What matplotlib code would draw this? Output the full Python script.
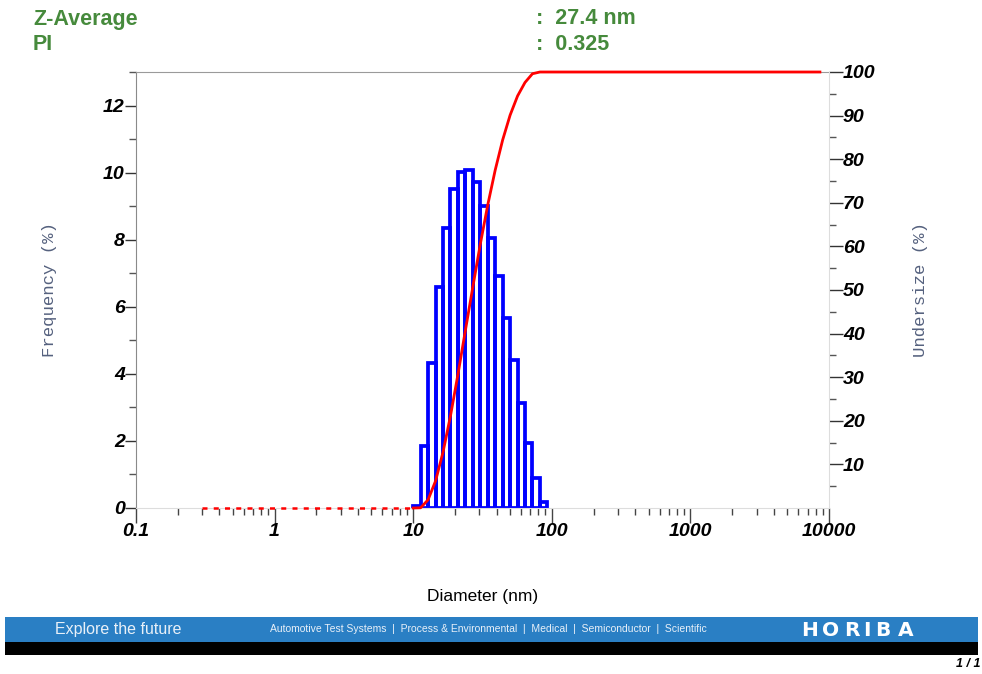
"""Particle size distribution report (frequency histogram + cumulative undersize)."""

import matplotlib

matplotlib.use("Agg")
import matplotlib.pyplot as plt
from matplotlib.patches import Rectangle
from matplotlib.ticker import LogLocator, FixedLocator, FixedFormatter, MultipleLocator

# ---- data ----
z_average = "27.4 nm"
pdi = "0.325"

# bin edges (nm) of the frequency histogram
bin_edges = [10.0, 11.32, 12.81, 14.50, 16.41, 18.57, 21.02, 23.79, 26.93, 30.48,
             34.50, 39.05, 44.19, 50.02, 56.61, 64.07, 72.52, 82.08, 92.90]
# frequency (%) for each bin
frequency = [0.05, 1.85, 4.31, 6.58, 8.34, 9.50, 10.03, 10.08, 9.72, 9.00,
             8.04, 6.91, 5.67, 4.41, 3.14, 1.93, 0.89, 0.19]

# cumulative undersize (%), zero part drawn dotted
undersize_zero_d = [0.3, 10.0]
undersize_zero = [0, 0]
undersize_d = [10.0, 11.32, 12.81, 14.50, 16.41, 18.57, 21.02, 23.79, 26.93, 30.48,
               34.50, 39.05, 44.19, 50.02, 56.61, 64.07, 72.52, 82.08, 92.90, 8600]
undersize = [0.0, 0.05, 1.9, 6.2, 12.8, 21.1, 30.6, 40.7, 50.7, 60.5,
             69.5, 77.5, 84.4, 90.1, 94.5, 97.6, 99.6, 100.0, 100.0, 100.0]

x_ticks = [0.1, 1, 10, 100, 1000, 10000]
x_ticklabels = ["0.1", "1", "10", "100", "1000", "10000"]
freq_ticks = [0, 2, 4, 6, 8, 10, 12]
under_ticks = [10, 20, 30, 40, 50, 60, 70, 80, 90, 100]

GREEN = "#468a3c"
LABEL_GRAY = "#55617e"
BAND_BLUE = "#2a7fc4"

W, H = 982, 674
fig = plt.figure(figsize=(W / 100, H / 100), dpi=100)
ax = fig.add_axes([136 / W, 1 - 508 / H, 693 / W, 436 / H])

widths = [b - a for a, b in zip(bin_edges[:-1], bin_edges[1:])]
ax.bar(bin_edges[:-1], frequency, width=widths, align="edge", fill=False,
       edgecolor="#0000ff", linewidth=2.7, zorder=2)

ax.set_xscale("log")
ax.set_xlim(0.1, 10000)
ax.set_ylim(0, 13)

tick_font = dict(fontfamily="Liberation Sans", fontweight="bold", fontstyle="italic", fontsize=14)

ax.xaxis.set_major_locator(FixedLocator(x_ticks))
ax.xaxis.set_major_formatter(FixedFormatter(x_ticklabels))
ax.xaxis.set_minor_locator(LogLocator(base=10, subs=range(2, 10), numticks=20))
ax.xaxis.set_minor_formatter(FixedFormatter([]))
ax.tick_params(axis="x", which="major", direction="out", length=11, width=1, color="#444444", pad=0)
ax.tick_params(axis="x", which="minor", direction="out", length=5, width=1, color="#444444")

ax.yaxis.set_major_locator(FixedLocator(freq_ticks))
ax.yaxis.set_minor_locator(MultipleLocator(1))
ax.tick_params(axis="y", which="major", direction="out", length=8, width=1, color="#333333", pad=0)
ax.tick_params(axis="y", which="minor", direction="out", length=5, width=1, color="#555555")

for lbl in ax.get_xticklabels() + ax.get_yticklabels():
    lbl.set(**tick_font)

ax.spines["left"].set_color("#8a8a8a")
ax.spines["top"].set_color("#9a9a9a")
ax.spines["bottom"].set_color("#dddddd")
ax.spines["right"].set_visible(False)

ax.set_ylabel("Frequency (%)", fontfamily="Liberation Mono", fontsize=12.5, color=LABEL_GRAY)
ax.yaxis.set_label_coords(-0.114, 0.5)

# cumulative curve on the right axis
ax2 = ax.twinx()
ax2.set_ylim(0, 100)
ax2.plot(undersize_zero_d, undersize_zero, color="#ff0000", linestyle=(0, (2, 2.5)),
         linewidth=1.8, clip_on=False)
ax2.plot(undersize_d, undersize, color="#ff0000", linewidth=2, clip_on=False)
ax2.yaxis.set_major_locator(FixedLocator(under_ticks))
ax2.yaxis.set_minor_locator(FixedLocator([5, 15, 25, 35, 45, 55, 65, 75, 85, 95]))
ax2.tick_params(axis="y", which="major", direction="out", length=10, width=1, color="#333333", pad=0)
ax2.tick_params(axis="y", which="minor", direction="out", length=5, width=1, color="#555555")
for lbl in ax2.get_yticklabels():
    lbl.set(**tick_font)
for side in ["left", "top", "bottom"]:
    ax2.spines[side].set_visible(False)
ax2.spines["right"].set_color("#dddddd")
ax2.set_ylabel("Undersize (%)", fontfamily="Liberation Mono", fontsize=12.5, color=LABEL_GRAY,
               rotation=90)
ax2.yaxis.set_label_coords(1.121, 0.5)

fig.text(483 / W, 1 - 597 / H, "Diameter (nm)", fontfamily="Liberation Sans", fontsize=12.5,
         ha="center", va="center")

# header
head = dict(fontfamily="Liberation Sans", fontweight="bold", fontsize=15.5, color=GREEN, va="center")
fig.text(33 / W, 1 - 19 / H, "Z-Average", **head)
fig.text(536 / W, 1 - 19 / H, ":  " + z_average, **head)
fig.text(33 / W, 1 - 45 / H, "PI", **head)
fig.text(536 / W, 1 - 45 / H, ":  " + pdi, **head)

# footer bands
fig.patches.append(Rectangle((5 / W, 1 - 642 / H), 973 / W, 25 / H, transform=fig.transFigure,
                             facecolor=BAND_BLUE, edgecolor="none"))
fig.patches.append(Rectangle((5 / W, 1 - 655 / H), 973 / W, 13 / H, transform=fig.transFigure,
                             facecolor="black", edgecolor="none"))
fig.text(55 / W, 1 - 629.5 / H, "Explore the future", color="#e8f0f8", fontfamily="Liberation Sans",
         fontsize=11.5, va="center")
fig.text(270 / W, 1 - 629.5 / H,
         "Automotive Test Systems  |  Process & Environmental  |  Medical  |  Semiconductor  |  Scientific",
         color="#e8f0f8", fontfamily="Liberation Sans", fontsize=7.5, va="center")
logo_x = [810, 831, 852, 867, 883, 906]
for x, ch in zip(logo_x, "HORIBA"):
    fig.text(x / W, 1 - 630 / H, ch, color="white", fontfamily="DejaVu Sans",
             fontweight="bold", fontsize=14.5, ha="center", va="center")
fig.text(980 / W, 1 - 664 / H, "1 / 1", fontfamily="Liberation Sans", fontweight="bold",
         fontstyle="italic", fontsize=9, ha="right", va="center")

fig.savefig("out.png", dpi=100)
